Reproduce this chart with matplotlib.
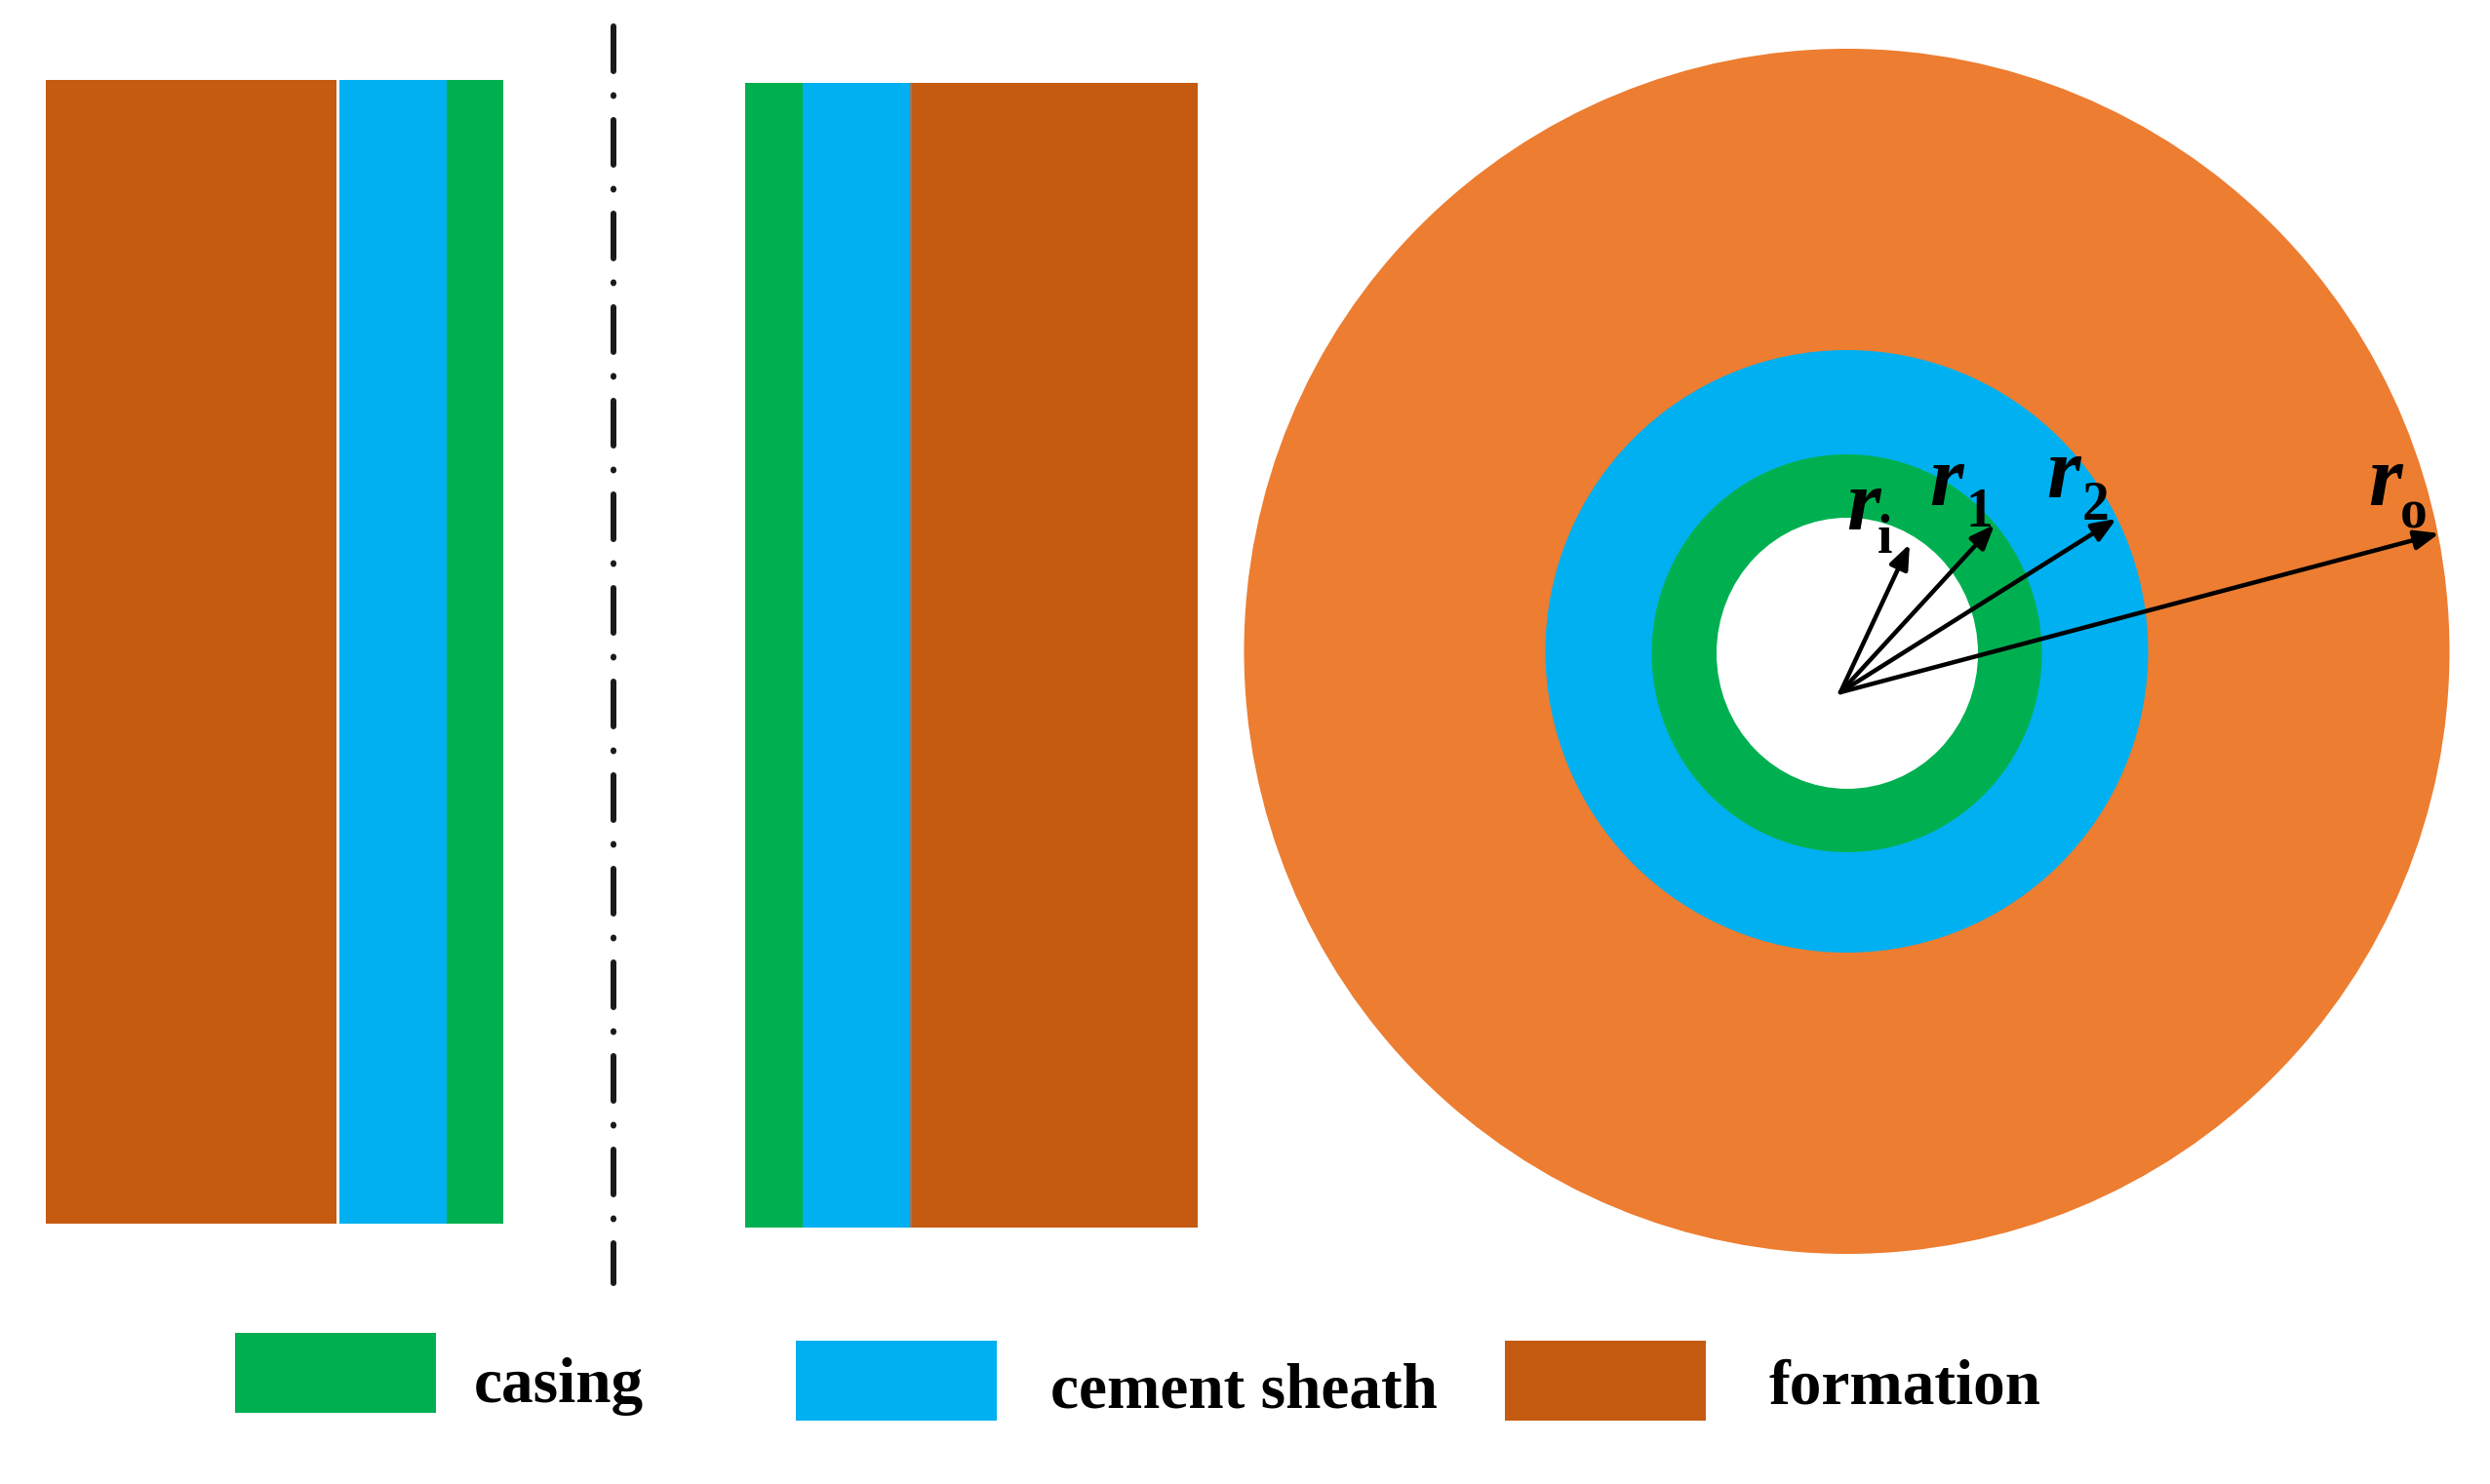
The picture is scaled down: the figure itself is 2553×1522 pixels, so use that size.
#!/usr/bin/env python

############# Required Packages ############
import matplotlib
matplotlib.use('Agg')
import matplotlib.pyplot as plt
from matplotlib.patches import Ellipse

############# DATA (in image pixels) ############
legend_labels    = ['casing', 'cement sheath', 'formation']
legend_left      = [241, 816, 1543]
legend_top       = [1367, 1375, 1375]
legend_text_x    = [486, 1077, 1813]
legend_text_y    = [1438, 1443, 1439]

left_edges       = [47, 348, 458]
left_widths      = [298, 110, 58]
left_colors      = ['#C55A11', '#00B0F0', '#00B050']
right_edges      = [764, 823, 933]
right_widths     = [59, 110, 295]
right_colors     = ['#00B050', '#00B0F0', '#C55A11']

ring_center_x    = [1893.5, 1893.5, 1893.5, 1894]
ring_center_y    = [668, 668, 670, 670]
ring_rx          = [618, 309, 200, 134]
ring_ry          = [618, 309, 204, 139]
ring_colors      = ['#ED7D31', '#00B0F0', '#00B050', 'white']

arrow_origin     = (1887, 710)
arrow_tip_x      = [1958, 2045, 2170, 2501]
arrow_tip_y      = [558, 538, 532, 547]
radius_subs      = ['i', '1', '2', 'o']
radius_r_x       = [1893, 1978, 2098, 2428]
radius_r_y       = [543, 518, 510, 518]
radius_sub_x     = [1925, 2016, 2135, 2461]
radius_sub_y     = [567, 540, 533, 542]

############# PLOT SETTINGS ############
canvas_w, canvas_h = 2553, 1522
serif_font       = 'Liberation Serif'
label_fontsize   = 47
r_fontsize       = 64
sub_fontsize     = 40
patch_w, patch_h = 206, 82
block_y          = [(82, 1255), (85, 1259)]
axis_x           = 629
axis_y           = (27, 1316)
seam_x           = 934
px               = 0.72  # one image pixel in points at dpi 100

plt.rcParams['font.family'] = serif_font
plt.rcParams['lines.scale_dashes'] = False

fig = plt.figure(figsize=(canvas_w / 100, canvas_h / 100), dpi=100)
ax = fig.add_axes([0, 0, 1, 1])
ax.set_xlim(0, canvas_w)
ax.set_ylim(canvas_h, 0)
ax.axis('off')

############# SECTION VIEW ############
ax.bar(left_edges, block_y[0][1] - block_y[0][0], width=left_widths, bottom=block_y[0][0],
       align='edge', color=left_colors, linewidth=0)
ax.bar(right_edges, block_y[1][1] - block_y[1][0], width=right_widths, bottom=block_y[1][0],
       align='edge', color=right_colors, linewidth=0)
ax.plot([seam_x, seam_x], block_y[1], color='#8A7A70', lw=2.5 * px, solid_capstyle='butt')

# centre line
ax.plot([axis_x, axis_x], axis_y, color='#1a1a1a', lw=6 * px,
        linestyle=(0, (46 * px, 24.5 * px, 1 * px, 24.5 * px)), dash_capstyle='round')

############# PLAN VIEW ############
for cx, cy, rx, ry, c in zip(ring_center_x, ring_center_y, ring_rx, ring_ry, ring_colors):
    ax.add_patch(Ellipse((cx, cy), 2 * rx, 2 * ry, facecolor=c, edgecolor='none'))

for tx, ty in zip(arrow_tip_x, arrow_tip_y):
    ax.annotate('', xy=(tx, ty), xytext=arrow_origin,
                arrowprops=dict(arrowstyle='-|>,head_length=0.5,head_width=0.2', color='black',
                                lw=4.5 * px, shrinkA=0, shrinkB=0, mutation_scale=30))

for rx, ry, sx, sy, s in zip(radius_r_x, radius_r_y, radius_sub_x, radius_sub_y, radius_subs):
    ax.text(rx, ry, 'r', fontsize=r_fontsize, style='italic', weight='bold', va='baseline', ha='left')
    ax.text(sx, sy, s, fontsize=sub_fontsize, weight='bold', va='baseline', ha='left')

############# LEGEND ############
for x, y, c in zip(legend_left, legend_top, ['#00B050', '#00B0F0', '#C55A11']):
    ax.bar(x, patch_h, width=patch_w, bottom=y, align='edge', color=c, linewidth=0)

for x, y, label in zip(legend_text_x, legend_text_y, legend_labels):
    ax.text(x, y, label, fontsize=label_fontsize, weight='bold', va='baseline', ha='left')

ax.set_xlim(0, canvas_w)
ax.set_ylim(canvas_h, 0)
fig.savefig('out.png', dpi=100)
